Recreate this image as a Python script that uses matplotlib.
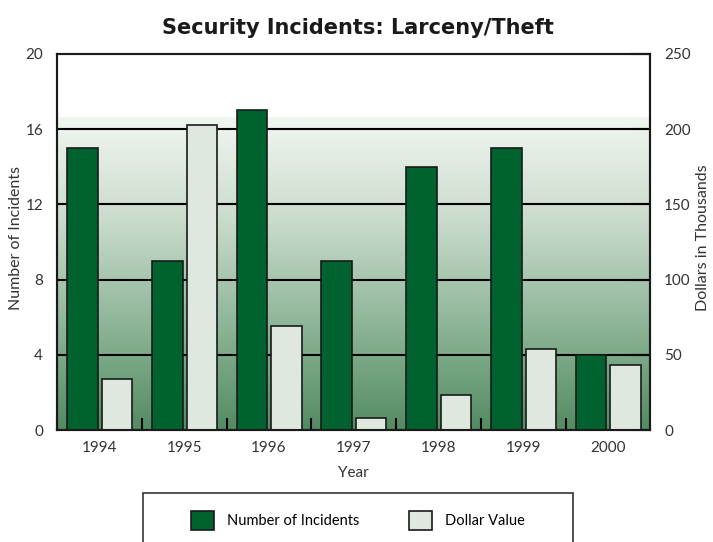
import numpy as np
import matplotlib.pyplot as plt
from matplotlib.patches import Rectangle
from matplotlib.colors import LinearSegmentedColormap

plt.rcParams['font.family'] = ['Lato', 'DejaVu Sans']

# данные
years = ['1994', '1995', '1996', '1997', '1998', '1999', '2000']
incidents = [15, 9, 17, 9, 14, 15, 4]
dollars = [34, 203, 69, 8, 23, 54, 43]  # тыс. долларов

dark = '#00632f'
light = '#dfe8df'

fig = plt.figure(figsize=(7.13, 5.42), dpi=100)
ax = fig.add_axes([0.08, 0.2066, 0.832, 0.6938])
ax2 = ax.twinx()

n = len(years)
x = np.arange(n)
w = 0.365

# фон с градиентом
cmap = LinearSegmentedColormap.from_list('g', ['#538b62', '#8db597', '#c9dbcb', '#f1f6f1'])
grad = np.linspace(0, 1, 256).reshape(-1, 1)
ax.imshow(grad, cmap=cmap, aspect='auto', origin='lower',
          extent=[-0.5, n - 0.5, 0, 16.6], zorder=0)

for yv in [4, 8, 12, 16]:
    ax.axhline(yv, color='black', lw=1.5, zorder=1)

ax.bar(x - 0.5 + 0.118, incidents, width=w, align='edge', color=dark,
       edgecolor='#1a1a1a', lw=1.2, zorder=2)
ax2.bar(x - 0.5 + 0.118 + w + 0.047, dollars, width=w - 0.01, align='edge',
        color=light, edgecolor='#1a1a1a', lw=1.2, zorder=2)

ax.set_xlim(-0.5, n - 0.5)
ax.set_ylim(0, 20)
ax2.set_ylim(0, 250)
ax.set_yticks([0, 4, 8, 12, 16, 20])
ax2.set_yticks([0, 50, 100, 150, 200, 250])
ax.set_xticks(x)
ax.set_xticklabels(years)
ax.set_xticks(np.arange(-0.5, n - 0.5, 1), minor=True)
ax.tick_params(axis='x', which='major', length=0, pad=8, labelsize=11, labelcolor='#333333')
ax.tick_params(axis='x', which='minor', direction='in', length=9, width=1.5)
ax.tick_params(axis='y', length=0, pad=10, labelsize=11, labelcolor='#333333')
ax2.tick_params(axis='y', direction='in', length=14, width=1.5, pad=10,
                labelsize=11, labelcolor='#333333')

for a in (ax, ax2):
    for s in a.spines.values():
        s.set_linewidth(1.5)
        s.set_color('#1a1a1a')

fig.text(16 / 713, 1 - 238 / 542, 'Number of Incidents', rotation=90,
         ha='center', va='center', fontsize=11.5, color='#333333')
fig.text(703 / 713, 1 - 238 / 542, 'Dollars in Thousands', rotation=90,
         ha='center', va='center', fontsize=11.5, color='#333333')
ax.set_xlabel('Year', fontsize=11, color='#333333', labelpad=8)

fig.text(0.502, 0.948, 'Security Incidents: Larceny/Theft', ha='center', va='center',
         fontsize=15, fontweight='bold', color='#1a1a1a',
         family=['DejaVu Sans'])

# рамка легенды
fig.patches.append(Rectangle((143 / 713, -0.05), 430 / 713, 0.05 + 49 / 542,
                             transform=fig.transFigure, fill=False,
                             edgecolor='#333333', lw=1.2))
h1 = Rectangle((0, 0), 1, 1, facecolor=dark, edgecolor='#1a1a1a', lw=1.2)
h2 = Rectangle((0, 0), 1, 1, facecolor=light, edgecolor='#1a1a1a', lw=1.2)
fig.legend([h1, h2], ['Number of Incidents', 'Dollar Value'], ncol=2,
           loc='center', bbox_to_anchor=(0.502, 0.04), frameon=False,
           handlelength=1.6, handleheight=1.6, columnspacing=3.4,
           handletextpad=0.9, fontsize=10.5)

fig.savefig('out.png', dpi=100)
